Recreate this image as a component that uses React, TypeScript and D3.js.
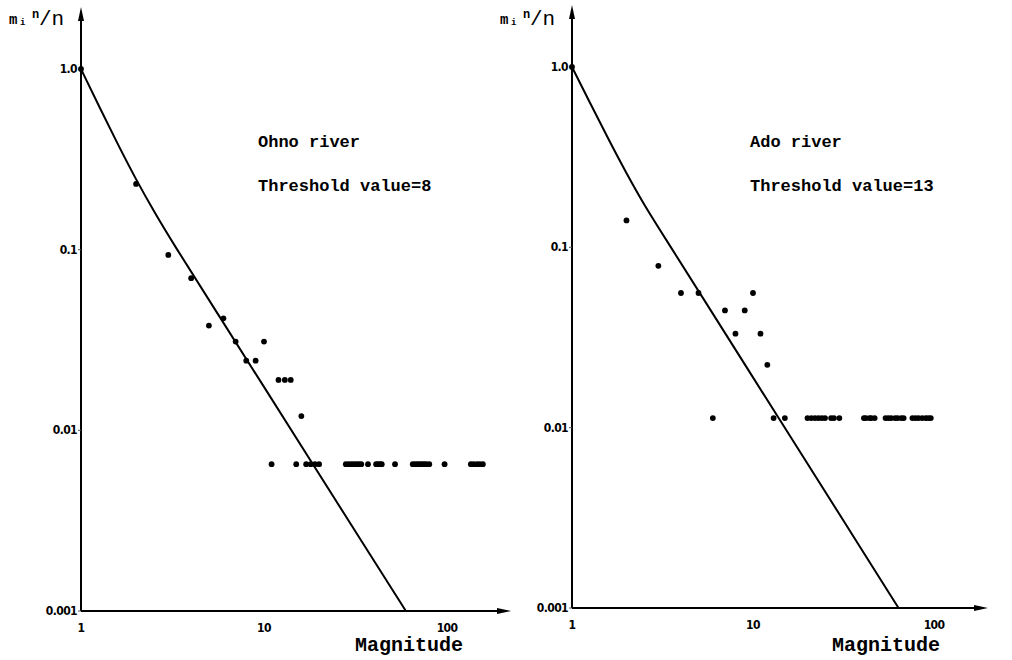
import * as d3 from 'd3';
import { useEffect, useRef } from 'react';

// Ohno river: magnitude vs m_i^n / n
const ohnoMagnitude = [1, 2, 3, 4, 5, 6, 7, 8, 9, 10, 12, 13, 14, 16,
  11, 15, 17, 18, 19, 20, 28, 29, 30, 31, 32, 33, 34, 37, 41, 42, 43, 44, 52,
  65, 67, 69, 71, 73, 75, 77, 80, 97, 135, 140, 146, 151, 157];
const ohnoRatio = [1, 0.231, 0.0935, 0.0695, 0.038, 0.0417, 0.031, 0.0243, 0.0243, 0.031, 0.019, 0.019, 0.019, 0.012,
  0.0065, 0.0065, 0.0065, 0.0065, 0.0065, 0.0065, 0.0065, 0.0065, 0.0065, 0.0065, 0.0065, 0.0065, 0.0065, 0.0065,
  0.0065, 0.0065, 0.0065, 0.0065, 0.0065, 0.0065, 0.0065, 0.0065, 0.0065, 0.0065, 0.0065, 0.0065, 0.0065, 0.0065,
  0.0065, 0.0065, 0.0065, 0.0065, 0.0065];

// Ado river
const adoMagnitude = [1, 2, 3, 4, 5, 6, 7, 8, 9, 10, 11, 12, 13,
  15, 20, 21, 22, 23, 24, 25, 27, 28, 30, 41, 42, 44, 45, 47,
  54, 56, 58, 61, 63, 66, 68, 76, 79, 82, 86, 90, 93, 96];
const adoRatio = [1, 0.141, 0.079, 0.0558, 0.0558, 0.0113, 0.0447, 0.0332, 0.0447, 0.0558, 0.0332, 0.0223, 0.0113,
  0.0113, 0.0113, 0.0113, 0.0113, 0.0113, 0.0113, 0.0113, 0.0113, 0.0113, 0.0113, 0.0113, 0.0113, 0.0113, 0.0113,
  0.0113, 0.0113, 0.0113, 0.0113, 0.0113, 0.0113, 0.0113, 0.0113, 0.0113, 0.0113, 0.0113, 0.0113, 0.0113, 0.0113,
  0.0113];

// fitted curves
const ohnoCurveMag = [1, 1.259, 1.585, 1.995, 2.512, 3.162, 5.623, 10, 17.78, 31.62, 59.6];
const ohnoCurveRatio = [1, 0.617, 0.385, 0.245, 0.162, 0.1096, 0.0437, 0.0174, 0.00692, 0.00275, 0.001];
const adoCurveMag = [1, 1.259, 1.585, 1.995, 2.512, 3.162, 5.623, 10, 17.78, 31.62, 63.7];
const adoCurveRatio = [1, 0.631, 0.4, 0.258, 0.171, 0.1186, 0.0475, 0.019, 0.00762, 0.00305, 0.001];

const yTicks = [1, 0.1, 0.01, 0.001];
const yTickLabels = ['1.0', '0.1', '0.01', '0.001'];
const xTicks = [1, 10, 100];
const xTickLabels = ['1', '10', '100'];

const panels = [
  { name: 'Ohno river', threshold: 'Threshold value=8', mags: ohnoMagnitude, ratios: ohnoRatio,
    cMag: ohnoCurveMag, cRatio: ohnoCurveRatio,
    x0: 81, x100: 447, xEnd: 511, yTop: 69, yBot: 611, arrowTop: 7, textX: 258, magX: 355 },
  { name: 'Ado river', threshold: 'Threshold value=13', mags: adoMagnitude, ratios: adoRatio,
    cMag: adoCurveMag, cRatio: adoCurveRatio,
    x0: 572, x100: 934, xEnd: 988, yTop: 67, yBot: 608, arrowTop: 5, textX: 750, magX: 832 },
];

const App = () => {
  const ref = useRef<SVGSVGElement>(null);

  useEffect(() => {
    const width = 1012;
    const height = 660;
    const svg = d3.select(ref.current);
    svg.selectAll('*').remove();
    svg.attr('width', width).attr('height', height);

    svg.append('rect').attr('width', width).attr('height', height).attr('fill', '#fff');

    const mono = '"Liberation Mono", "DejaVu Sans Mono", monospace';
    const cond = '"DejaVu Sans Condensed", "Liberation Sans Narrow", sans-serif';

    panels.forEach(p => {
      const x = d3.scaleLog().domain([1, 100]).range([p.x0, p.x100]);
      const y = d3.scaleLog().domain([0.001, 1]).range([p.yBot, p.yTop]);
      const g = svg.append('g');

      // axes with arrows
      g.append('line').attr('x1', x(1)).attr('x2', x(1)).attr('y1', y(0.001)).attr('y2', p.arrowTop + 8)
        .attr('stroke', '#000').attr('stroke-width', 2);
      g.append('path')
        .attr('d', `M${x(1)},${p.arrowTop} L${x(1) - 3},${p.arrowTop + 14} L${x(1) + 3},${p.arrowTop + 14}Z`)
        .attr('fill', '#000');
      g.append('line').attr('x1', x(1)).attr('x2', p.xEnd - 8).attr('y1', y(0.001)).attr('y2', y(0.001))
        .attr('stroke', '#000').attr('stroke-width', 2);
      g.append('path')
        .attr('d', `M${p.xEnd},${y(0.001)} L${p.xEnd - 14},${y(0.001) - 3} L${p.xEnd - 14},${y(0.001) + 3}Z`)
        .attr('fill', '#000');

      // ticks
      g.selectAll('.yt').data(yTicks).enter().append('line')
        .attr('x1', x(1) - 3).attr('x2', x(1)).attr('y1', d => y(d)).attr('y2', d => y(d))
        .attr('stroke', '#555').attr('stroke-width', 1);
      g.selectAll('.yl').data(yTicks).enter().append('text')
        .attr('x', x(1) - 4).attr('y', d => y(d) + 4)
        .attr('text-anchor', 'end').attr('font-family', cond).attr('font-weight', 'bold')
        .attr('font-size', 12).attr('letter-spacing', -0.6)
        .text((d, i) => yTickLabels[i]);
      g.selectAll('.xl').data(xTicks).enter().append('text')
        .attr('x', d => x(d)).attr('y', y(0.001) + 21)
        .attr('text-anchor', 'middle').attr('font-family', cond).attr('font-weight', 'bold')
        .attr('font-size', 12).attr('letter-spacing', -0.6)
        .text((d, i) => xTickLabels[i]);

      // y axis label m_i^n / n
      const lab = g.append('text').attr('font-family', mono).attr('font-weight', 'bold');
      lab.append('tspan').attr('x', x(1) - 72).attr('y', 24).attr('font-size', 14).text('m');
      lab.append('tspan').attr('x', x(1) - 61).attr('y', 25).attr('font-size', 9).text('i');
      lab.append('tspan').attr('x', x(1) - 49).attr('y', 18).attr('font-size', 12).text('n');
      lab.append('tspan').attr('x', x(1) - 42).attr('y', 25).attr('font-size', 21).attr('font-weight', 'normal').text('/n');

      // fitted curve
      const pts = p.cMag.map((m, i) => [x(m), y(p.cRatio[i])] as [number, number]);
      g.append('path')
        .attr('d', d3.line().curve(d3.curveBasis)(pts))
        .attr('fill', 'none').attr('stroke', '#000').attr('stroke-width', 2);

      // observed points
      g.selectAll('.pt').data(p.mags).enter().append('circle')
        .attr('cx', d => x(d)).attr('cy', (d, i) => y(p.ratios[i]))
        .attr('r', 2.9).attr('fill', '#000');

      // annotations
      g.append('text').attr('x', p.textX).attr('y', 147).attr('font-family', mono).attr('font-weight', 'bold')
        .attr('font-size', 17).text(p.name);
      g.append('text').attr('x', p.textX).attr('y', 191).attr('font-family', mono).attr('font-weight', 'bold')
        .attr('font-size', 17).text(p.threshold);
      g.append('text').attr('x', p.magX).attr('y', 651).attr('font-family', mono).attr('font-weight', 'bold')
        .attr('font-size', 20).text('Magnitude');
    });
  }, []);

  return (
    <svg ref={ref} style={{ position: 'absolute', left: 0, top: 0, display: 'block' }}></svg>
  );
};

export default App;
